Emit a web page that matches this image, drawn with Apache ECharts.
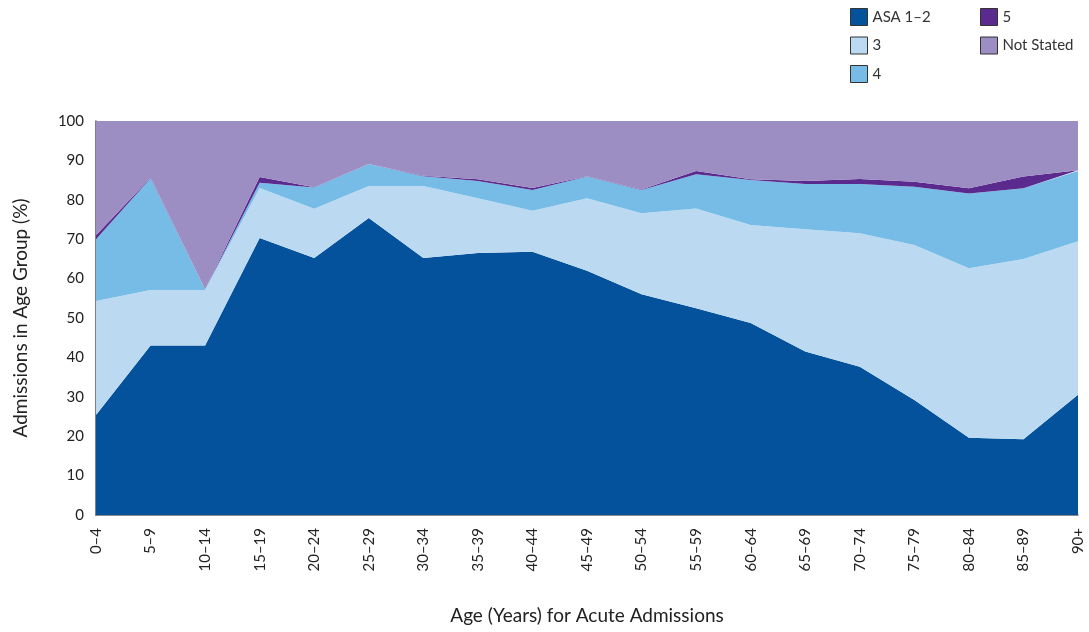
<!DOCTYPE html>
<html lang="en">
  <head>
    <meta charset="UTF-8" />
    <title>Admissions by ASA grade and age group</title>
    <script src="https://cdn.jsdelivr.net/npm/echarts@6/dist/echarts.min.js"></script>
    <style>
      html, body { margin: 0; padding: 0; background: #fff; }
      #chart { width: 1089px; height: 632px; }
    </style>
  </head>
  <body>
    <div id="chart"></div>
    <script>
      // age groups on the x axis
      var ageGroups = ["0–4", "5–9", "10–14", "15–19", "20–24", "25–29", "30–34", "35–39", "40–44",
        "45–49", "50–54", "55–59", "60–64", "65–69", "70–74", "75–79", "80–84", "85–89", "90+"];

      // share of admissions (%) per ASA grade
      var asa12 = [25.4, 43, 43, 70.3, 65.2, 75.4, 65.2, 66.5, 66.8, 62, 56, 52.5, 48.7, 41.5, 37.6, 29.2, 19.6, 19.2, 30.5];
      var asa3 = [28.9, 14.1, 14.1, 12.7, 12.5, 8.1, 18.3, 13.9, 10.4, 18.4, 20.6, 25.3, 24.9, 31, 33.9, 39.3, 43, 45.8, 39];
      var asa4 = [15.7, 28.4, 0.2, 1.3, 5.4, 5.6, 2.5, 4.4, 5.3, 5.5, 5.9, 8.7, 11.4, 11.5, 12.5, 14.8, 19, 17.9, 17.8];
      var asa5 = [1, 0.1, 0, 1.5, 0.1, 0, 0.1, 0.4, 0.5, 0.1, 0.1, 0.8, 0.2, 0.8, 1.3, 1.3, 1.3, 3, 0.2];
      var notStated = [29, 14.4, 42.7, 14.2, 16.8, 10.9, 13.9, 14.8, 17, 14, 17.4, 12.7, 14.8, 15.2, 14.7, 15.4, 17.1, 14.1, 12.5];

      var yTicks = { min: 0, max: 100, interval: 10 };

      var font = "Lato";
      var chart = echarts.init(document.getElementById("chart"));

      function area(name, data, color) {
        return {
          name: name,
          type: "line",
          stack: "total",
          data: data,
          symbol: "none",
          lineStyle: { width: 0 },
          areaStyle: { color: color, opacity: 1 },
          itemStyle: { color: color },
        };
      }

      var legendBase = {
        orient: "vertical",
        top: 3,
        itemWidth: 17,
        itemHeight: 17,
        itemGap: 10.5,
        icon: "rect",
        itemStyle: { borderColor: "#333", borderWidth: 1 },
        textStyle: { fontFamily: font, fontSize: 15, color: "#333" },
      };

      chart.setOption({
        animation: false,
        legend: [
          Object.assign({ left: 845, data: ["ASA 1–2", "3", "4"] }, legendBase),
          Object.assign({ left: 975, data: ["5", "Not Stated"] }, legendBase),
        ],
        grid: { left: 96, right: 11, top: 121, bottom: 117, containLabel: false },
        xAxis: {
          type: "category",
          data: ageGroups,
          boundaryGap: false,
          axisLine: { lineStyle: { color: "#666", width: 1.5 } },
          axisTick: { show: false },
          axisLabel: {
            rotate: 90,
            margin: 13,
            fontFamily: font,
            fontSize: 15,
            color: "#222",
          },
          name: "Age (Years) for Acute Admissions",
          nameLocation: "middle",
          nameGap: 91,
          nameTextStyle: { fontFamily: font, fontSize: 19, color: "#222" },
        },
        yAxis: {
          type: "value",
          min: yTicks.min,
          max: yTicks.max,
          interval: yTicks.interval,
          splitLine: { show: false },
          axisLine: { show: true, lineStyle: { color: "#555", width: 1.5 } },
          axisTick: { show: false },
          axisLabel: { margin: 12, fontFamily: font, fontSize: 15, color: "#222" },
          name: "Admissions in Age Group (%)",
          nameLocation: "middle",
          nameGap: 66,
          nameTextStyle: { fontFamily: font, fontSize: 19, color: "#222" },
        },
        series: [
          area("ASA 1–2", asa12, "#03529b"),
          area("3", asa3, "#bbdaf1"),
          area("4", asa4, "#77bce6"),
          area("5", asa5, "#5a2a8e"),
          area("Not Stated", notStated, "#9c8dc3"),
        ],
      });
    </script>
  </body>
</html>
